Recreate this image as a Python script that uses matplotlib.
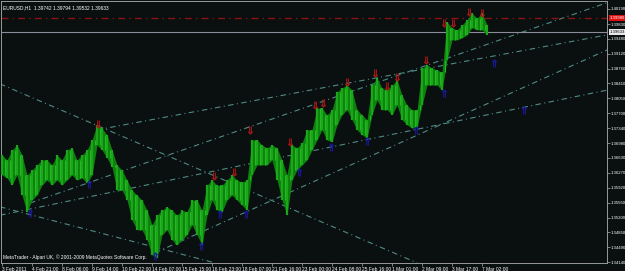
import numpy as np
import matplotlib
matplotlib.use("Agg")
import matplotlib.pyplot as plt

plt.rcParams['font.family'] = ['Liberation Sans', 'DejaVu Sans']

# EURUSD H1, sampled every 16/3 bars: block highs and lows
highs = [1.3670, 1.3658, 1.3682, 1.3694, 1.3670, 1.3622, 1.3634, 1.3646, 1.3658, 1.3658,
         1.3646, 1.3670, 1.3658, 1.3682, 1.3687, 1.3658, 1.3670, 1.3682, 1.3706, 1.3742,
         1.3734, 1.3718, 1.3682, 1.3646, 1.3634, 1.3610, 1.3586, 1.3574, 1.3562, 1.3538,
         1.3503, 1.3526, 1.3538, 1.3546, 1.3538, 1.3526, 1.3538, 1.3534, 1.3562, 1.3562,
         1.3538, 1.3598, 1.3610, 1.3598, 1.3598, 1.3610, 1.3622, 1.3610, 1.3605, 1.3610,
         1.3706, 1.3706, 1.3694, 1.3687, 1.3694, 1.3687, 1.3658, 1.3622, 1.3694, 1.3687,
         1.3699, 1.3730, 1.3730, 1.3782, 1.3782, 1.3766, 1.3778, 1.3821, 1.3830, 1.3837,
         1.3825, 1.3778, 1.3766, 1.3754, 1.3837, 1.3854, 1.3830, 1.3825, 1.3837, 1.3849,
         1.3813, 1.3789, 1.3778, 1.3778, 1.3878, 1.3885, 1.3878, 1.3873, 1.3868, 1.3988,
         1.3974, 1.3969, 1.3981, 1.3993, 1.4009, 1.3997, 1.4009, 1.3981]
lows = [1.3622, 1.3615, 1.3598, 1.3622, 1.3574, 1.3534, 1.3562, 1.3574, 1.3598, 1.3610,
        1.3598, 1.3610, 1.3598, 1.3610, 1.3622, 1.3610, 1.3615, 1.3603, 1.3622, 1.3694,
        1.3682, 1.3663, 1.3641, 1.3586, 1.3586, 1.3562, 1.3514, 1.3491, 1.3491, 1.3467,
        1.3431, 1.3424, 1.3479, 1.3491, 1.3467, 1.3455, 1.3467, 1.3479, 1.3503, 1.3479,
        1.3455, 1.3526, 1.3562, 1.3538, 1.3534, 1.3562, 1.3574, 1.3562, 1.3550, 1.3538,
        1.3622, 1.3646, 1.3646, 1.3646, 1.3658, 1.3610, 1.3562, 1.3526, 1.3610, 1.3634,
        1.3646, 1.3658, 1.3682, 1.3706, 1.3730, 1.3706, 1.3701, 1.3742, 1.3766, 1.3778,
        1.3754, 1.3730, 1.3718, 1.3711, 1.3766, 1.3801, 1.3778, 1.3778, 1.3766, 1.3789,
        1.3754, 1.3742, 1.3734, 1.3737, 1.3789, 1.3837, 1.3837, 1.3837, 1.3825, 1.3897,
        1.3945, 1.3945, 1.3950, 1.3957, 1.3974, 1.3969, 1.3969, 1.3957]
step = 16 / 3

# fractal arrows (bar, price)
up_bars = [102.4, 226.1, 247.5, 264.5, 307.2, 333.9, 342.4, 368, 397.9, 410.7,
           421.3, 452.3, 471.5, 481.1, 498.1, 512]
up_prices = [1.3744, 1.3620, 1.3629, 1.3730, 1.3701, 1.3789, 1.3794, 1.3844, 1.3866, 1.3835,
             1.3856, 1.3897, 1.3986, 1.3986, 1.4012, 1.4009]
dn_bars = [29.9, 92.8, 163.2, 212.3, 232.5, 260.3, 316.8, 350.9, 389.3, 441.6, 471.5, 524.8, 556.8]
dn_prices = [1.3531, 1.3601, 1.3428, 1.3452, 1.3529, 1.3529, 1.3629, 1.3689, 1.3703, 1.3730,
             1.3818, 1.3890, 1.3778]

# trend lines: (bar1, price1, bar2, price2)
trend_lines = [
    (-2.1, 1.3840, 442.7, 1.3412),
    (101.3, 1.3730, 645.3, 1.3957),
    (29.9, 1.3555, 645.3, 1.4034),
    (-2.1, 1.3526, 645.3, 1.3825),
    (163.2, 1.3436, 645.3, 1.3921),
    (-2.1, 1.3546, 227.2, 1.3412),
]

x_labels = ["3 Feb 2011", "4 Feb 21:00", "8 Feb 06:00", "9 Feb 14:00", "10 Feb 22:00",
            "14 Feb 07:00", "15 Feb 15:00", "16 Feb 23:00", "18 Feb 07:00", "21 Feb 16:00",
            "23 Feb 00:00", "24 Feb 08:00", "25 Feb 16:00", "1 Mar 01:00", "2 Mar 09:00",
            "3 Mar 17:00", "7 Mar 02:00"]
y_ticks = [1.34140, 1.34490, 1.34850, 1.35200, 1.35560, 1.35920, 1.36270, 1.36630, 1.36980,
           1.37340, 1.37700, 1.38050, 1.38410, 1.38760, 1.39120, 1.39480, 1.39830, 1.40190]
ask_line = 1.39980
bid_line = 1.39633
header = "EURUSD,H1  1.39742 1.39794 1.39532 1.39633"
footer = "MetaTrader - Alpari UK, \u00a9 2001-2009 MetaQuotes Software Corp."

bg = '#0a0f0f'
fs = 3.5
fs_y = 3.1
fig = plt.figure(figsize=(6.25, 2.71), dpi=100, facecolor=bg)
ax = fig.add_axes([1 / 625, 8 / 271, 606 / 625, 262 / 271], facecolor=bg)

bars = np.arange(len(highs)) * step
hi = np.array(highs)
lo = np.array(lows)
ax.fill_between(bars, lo, hi, color='#0d800d', lw=0, zorder=3)
ax.vlines(bars, lo, hi, color='#1aa81a', lw=1.6, zorder=3)
# in-between bars: overlap of neighbouring blocks
mid = (bars[:-1] + bars[1:]) / 2
ax.vlines(mid, np.maximum(lo[:-1], lo[1:]), np.minimum(hi[:-1], hi[1:]),
          color='#25b825', lw=0.8, zorder=3)

for b1, p1, b2, p2 in trend_lines:
    ax.plot([b1, b2], [p1, p2], color='#4f8a86', lw=0.8, ls=(0, (5, 3, 1, 3)), zorder=2)

ax.axhline(ask_line, color='#8a1414', lw=1.0, ls=(0, (5, 3, 1, 3)), zorder=2)
ax.axhline(bid_line, color='#8a8c9c', lw=0.8, zorder=2)

ax.scatter(up_bars, np.array(up_prices), marker=r'$\Downarrow$', s=30, color='#b01818', lw=0.3, zorder=4)
ax.scatter(dn_bars, np.array(dn_prices), marker=r'$\Uparrow$', s=30, color='#1a1aa0', lw=0.3, zorder=4)

ax.set_xlim(-1.07, 645.3)
ax.set_ylim(1.34117, 1.40381)

ax.set_xticks(np.arange(len(x_labels)) * 32)
ax.set_xticklabels(x_labels, ha='left')
ax.set_yticks(y_ticks)
ax.set_yticklabels([f"{v:.5f}" for v in y_ticks])
ax.yaxis.tick_right()
ax.tick_params(axis='both', colors='#b0b0b0', labelcolor='white', labelsize=fs,
               length=2, width=0.5, pad=1)
ax.tick_params(axis='y', labelsize=fs_y, pad=0.6)
for s in ax.spines.values():
    s.set_color('#9a9a9a')
    s.set_linewidth(0.7)

trans = ax.get_yaxis_transform()
ax.text(1.005, ask_line, "1.39980", transform=trans, fontsize=fs_y, color='white', va='center',
        bbox=dict(boxstyle='square,pad=0.2', fc='#e01010', ec='none'))
ax.text(1.005, bid_line, "1.39633", transform=trans, fontsize=fs_y, color='black', va='center',
        bbox=dict(boxstyle='square,pad=0.2', fc='#e8e8e8', ec='none'))

ax.text(0.004, 0.985, header, transform=ax.transAxes, fontsize=fs, color='white', va='top')
ax.text(0.004, 0.012, footer, transform=ax.transAxes, fontsize=fs, color='white', va='bottom')

fig.savefig('out.png', dpi=100, facecolor=bg)
